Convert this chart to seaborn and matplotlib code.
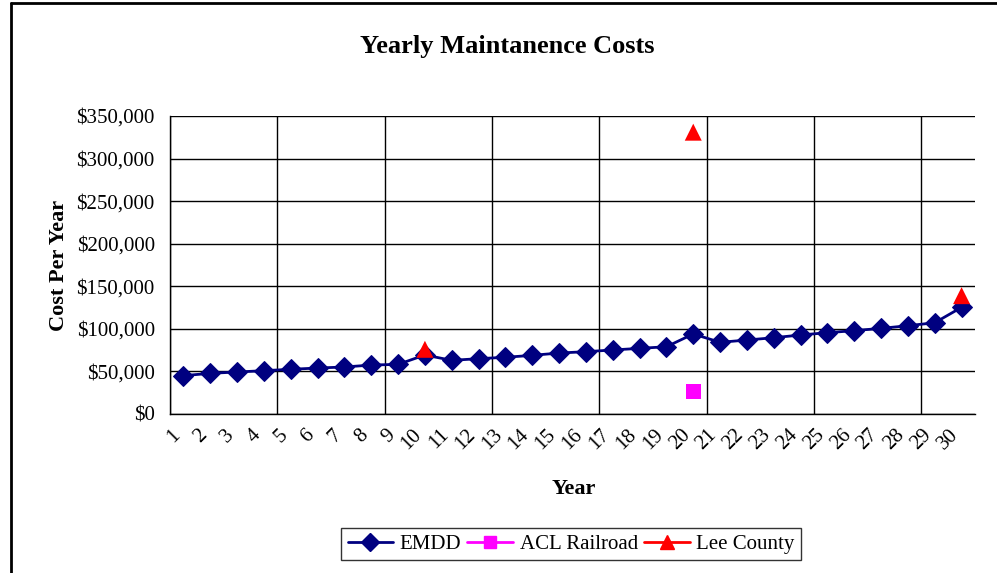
import matplotlib
matplotlib.use("Agg")
import matplotlib.pyplot as plt
import matplotlib.transforms as mtransforms
from matplotlib.lines import Line2D
from matplotlib.ticker import FuncFormatter
import numpy as np
import pandas as pd
import seaborn as sns

# data
years = list(range(1, 31))
emdd = [45000, 47800, 49300, 50900, 52500, 54000, 55200, 57500, 58300, 69300,
        63000, 65000, 66600, 68900, 71600, 73200, 75200, 77100, 79000, 94000,
        84200, 86900, 89600, 92800, 95500, 97900, 100600, 103700, 107200, 125300]
acl_years = [20]
acl_cost = [26200]
lee_years = [10, 20, 30]
lee_cost = [76000, 331000, 139000]

NAVY = "#000080"
MAGENTA = "#FF00FF"
RED = "#FF0000"

sns.set_style("white")
plt.rcParams["font.family"] = ["Liberation Serif", "DejaVu Serif"]
plt.rcParams["text.color"] = "black"
plt.rcParams["axes.labelcolor"] = "black"
plt.rcParams["xtick.color"] = "black"
plt.rcParams["ytick.color"] = "black"

df_emdd = pd.DataFrame({"Year": years, "Cost": emdd})
df_acl = pd.DataFrame({"Year": acl_years, "Cost": acl_cost})
df_lee = pd.DataFrame({"Year": lee_years, "Cost": lee_cost})

fig = plt.figure(figsize=(9.97, 5.73), dpi=100)
ax = fig.add_axes([170 / 997, 1 - 414 / 573, (975 - 170) / 997, (414 - 116) / 573])

sns.lineplot(data=df_emdd, x="Year", y="Cost", ax=ax, color=NAVY, lw=2,
             marker="D", markersize=10, markeredgecolor=NAVY, zorder=3)
sns.scatterplot(data=df_acl, x="Year", y="Cost", ax=ax, color=MAGENTA,
                marker="s", s=120, edgecolor="none", zorder=4)
sns.scatterplot(data=df_lee, x="Year", y="Cost", ax=ax, color=RED,
                marker="^", s=150, edgecolor="none", zorder=5)

ax.set_xlim(0.5, 30.5)
ax.set_ylim(0, 350000)

# gridlines every 4 years, labels on every year
ax.set_xticks(np.arange(0.5, 30.6, 4))
ax.set_xticklabels([])
ax.set_xticks(years, minor=True)
ax.set_xticklabels([str(y) for y in years], minor=True, rotation=45,
                   ha="right", va="center", rotation_mode="anchor", fontsize=15)
ax.tick_params(axis="x", which="major", direction="out", length=7, width=1)
ax.tick_params(axis="x", which="minor", length=0, pad=13)
offset = mtransforms.ScaledTranslation(-6 / 100, 0, fig.dpi_scale_trans)
for lab in ax.get_xticklabels(minor=True):
    lab.set_transform(lab.get_transform() + offset)

ax.set_yticks(np.arange(0, 350001, 50000))
ax.yaxis.set_major_formatter(FuncFormatter(lambda v, p: f"${v:,.0f}"))
ax.tick_params(axis="y", direction="out", length=7, width=1, labelsize=15, pad=4)

ax.grid(True, which="major", color="black", lw=1)
ax.set_axisbelow(True)
for side in ["top", "right"]:
    ax.spines[side].set_visible(False)
for side in ["left", "bottom"]:
    ax.spines[side].set_color("black")
    ax.spines[side].set_linewidth(1)

ax.set_xlabel("Year", fontsize=16, fontweight="bold")
ax.set_ylabel("Cost Per Year", fontsize=16, fontweight="bold")
ax.xaxis.label.set_va("center")
ax.yaxis.label.set_va("center")
ax.xaxis.set_label_coords((573.5 - 170) / 805, -(489 - 414) / 298)
ax.yaxis.set_label_coords(-(170 - 59) / 805, 0.5)

fig.text(507 / 997, 1 - 47 / 573, "Yearly Maintanence Costs", ha="center", va="center",
         fontsize=19, fontweight="bold")

handles = [
    Line2D([], [], color=NAVY, lw=2, marker="D", markersize=9),
    Line2D([], [], color=MAGENTA, lw=2, marker="s", markersize=9),
    Line2D([], [], color=RED, lw=2, marker="^", markersize=10),
]
leg = fig.legend(handles, ["EMDD", "ACL Railroad", "Lee County"], loc="center",
                 bbox_to_anchor=(571 / 997, 1 - 544 / 573), ncol=3, fontsize=15,
                 frameon=True, fancybox=False, edgecolor="black", handlelength=2.2,
                 columnspacing=0.3, handletextpad=0.3, borderpad=0.3)
leg.get_frame().set_linewidth(1)

# chart-area frame (left and top edges visible)
fig.add_artist(Line2D([11 / 997, 11 / 997], [0, 1 - 3 / 573], color="black", lw=2,
                      transform=fig.transFigure))
fig.add_artist(Line2D([11 / 997, 1], [1 - 3 / 573, 1 - 3 / 573], color="black", lw=2,
                      transform=fig.transFigure))

fig.savefig("out.png", dpi=100)
